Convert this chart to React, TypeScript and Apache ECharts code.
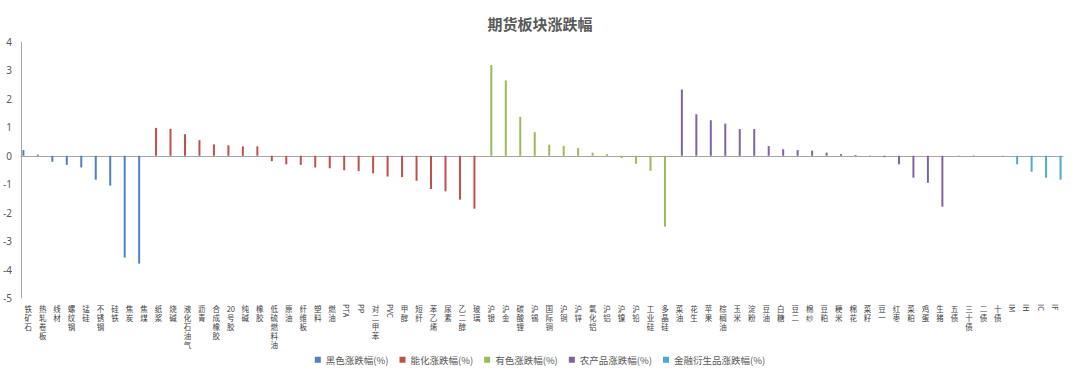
import React, { useEffect, useRef } from "react";
import * as echarts from "echarts";

const blackCats = ["铁矿石", "热轧卷板", "线材", "螺纹钢", "锰硅", "不锈钢", "硅铁", "焦炭", "焦煤"];
const blackVals = [0.2, 0.04, -0.21, -0.32, -0.41, -0.84, -1.05, -3.58, -3.79];

const energyCats = ["纸浆", "烧碱", "液化石油气", "沥青", "合成橡胶", "20号胶", "纯碱", "橡胶", "低硫燃料油", "原油", "纤维板", "塑料", "燃油", "PTA", "PP", "对二甲苯", "PVC", "甲醇", "短纤", "苯乙烯", "尿素", "乙二醇", "玻璃"];
const energyVals = [0.98, 0.95, 0.76, 0.55, 0.4, 0.37, 0.33, 0.33, -0.19, -0.3, -0.32, -0.41, -0.44, -0.51, -0.54, -0.62, -0.73, -0.75, -0.88, -1.17, -1.25, -1.54, -1.86];

const metalCats = ["沪银", "沪金", "碳酸锂", "沪锡", "国际铜", "沪铜", "沪锌", "氧化铝", "沪铝", "沪镍", "沪铅", "工业硅", "多晶硅"];
const metalVals = [3.19, 2.65, 1.37, 0.83, 0.39, 0.35, 0.27, 0.11, 0.06, -0.08, -0.28, -0.53, -2.49];

const agriCats = ["菜油", "花生", "苹果", "棕榈油", "玉米", "淀粉", "豆油", "白糖", "豆二", "棉纱", "豆粕", "粳米", "棉花", "菜籽", "豆一", "红枣", "菜粕", "鸡蛋", "生猪"];
const agriVals = [2.33, 1.46, 1.25, 1.13, 0.94, 0.94, 0.34, 0.23, 0.2, 0.18, 0.11, 0.06, 0.03, 0.01, -0.05, -0.3, -0.77, -0.95, -1.79];

const finCats = ["五债", "三十债", "二债", "十债", "IM", "IH", "IC", "IF"];
const finVals = [0.01, 0.02, 0.0, 0.01, -0.3, -0.56, -0.77, -0.84];

const seriesNames = ["黑色涨跌幅(%)", "能化涨跌幅(%)", "有色涨跌幅(%)", "农产品涨跌幅(%)", "金融衍生品涨跌幅(%)"];
const seriesColors = ["#4F81BD", "#C0504D", "#9BBB59", "#8064A2", "#4BACC6"];

const yTicks = { min: -5, max: 4, interval: 1 };

const groups = [
  { cats: blackCats, vals: blackVals },
  { cats: energyCats, vals: energyVals },
  { cats: metalCats, vals: metalVals },
  { cats: agriCats, vals: agriVals },
  { cats: finCats, vals: finVals },
];

const isAscii = (s: string) => /^[A-Za-z0-9]+$/.test(s);

function verticalLabel(s: string): string {
  if (isAscii(s)) return "";
  const parts: string[] = [];
  let buf = "";
  for (const ch of s) {
    if (/[0-9]/.test(ch)) {
      buf += ch;
    } else {
      if (buf) {
        parts.push(buf);
        buf = "";
      }
      parts.push(ch);
    }
  }
  if (buf) parts.push(buf);
  return parts.join("\n");
}

export default function App() {
  const ref = useRef<HTMLDivElement>(null);
  useEffect(() => {
    if (!ref.current) return;
    const chart = echarts.init(ref.current, undefined, { renderer: "svg" });
    const allCats: string[] = [];
    groups.forEach((g) => allCats.push(...g.cats));
    let offset = 0;
    const series = groups.map((g, gi) => {
      const start = offset;
      offset += g.cats.length;
      const data = allCats.map((_, i) =>
        i >= start && i < start + g.vals.length ? g.vals[i - start] : "-"
      );
      return {
        name: seriesNames[gi],
        type: "bar",
        xAxisIndex: 0,
        barWidth: 2,
        barGap: "20%",
        data,
        itemStyle: { color: seriesColors[gi] },
      };
    });
    const labelFont = "Noto Sans CJK SC";
    chart.setOption({
      animation: false,
      title: {
        text: "期货板块涨跌幅",
        left: "center",
        top: 11,
        textStyle: {
          fontSize: 15,
          fontWeight: "bold",
          color: "#595959",
          fontFamily: labelFont,
        },
      },
      legend: {
        data: seriesNames,
        top: 350,
        left: "center",
        itemWidth: 6,
        itemHeight: 6,
        itemGap: 11,
        icon: "rect",
        textStyle: { fontSize: 9.5, color: "#595959", fontFamily: labelFont },
      },
      grid: { left: 20, right: 17, top: 42, bottom: 77, containLabel: false },
      xAxis: [
        {
          type: "category",
          data: allCats,
          position: "bottom",
          axisLine: { show: false, onZero: false },
          axisTick: { show: false },
          axisLabel: {
            interval: 0,
            margin: 6,
            fontSize: 7.5,
            lineHeight: 9,
            color: "#404040",
            verticalAlign: "top",
            fontFamily: labelFont,
            formatter: (v: string) => verticalLabel(v),
          },
        },
        {
          type: "category",
          data: allCats,
          position: "top",
          axisLine: { show: true, onZero: true, lineStyle: { color: "#A6A6A6", width: 1 } },
          axisTick: { show: false },
          axisLabel: { show: false },
        },
        {
          type: "category",
          data: allCats,
          position: "bottom",
          axisLine: { show: false, onZero: false },
          axisTick: { show: false },
          axisLabel: {
            interval: 0,
            margin: 6,
            rotate: -90,
            fontSize: 7.5,
            color: "#404040",
            fontFamily: labelFont,
            formatter: (v: string) => (isAscii(v) ? v : ""),
          },
        },
      ],
      yAxis: {
        type: "value",
        min: yTicks.min,
        max: yTicks.max,
        interval: yTicks.interval,
        axisLine: { show: true, lineStyle: { color: "#A6A6A6" } },
        axisTick: { show: false },
        splitLine: { show: false },
        axisLabel: { fontSize: 10, color: "#595959", margin: 9, fontFamily: "Noto Sans" },
      },
      series,
    });
    return () => chart.dispose();
  }, []);
  return (
    <div
      ref={ref}
      style={{ position: "fixed", left: 0, top: 0, width: 1080, height: 375, background: "#fff" }}
    />
  );
}
